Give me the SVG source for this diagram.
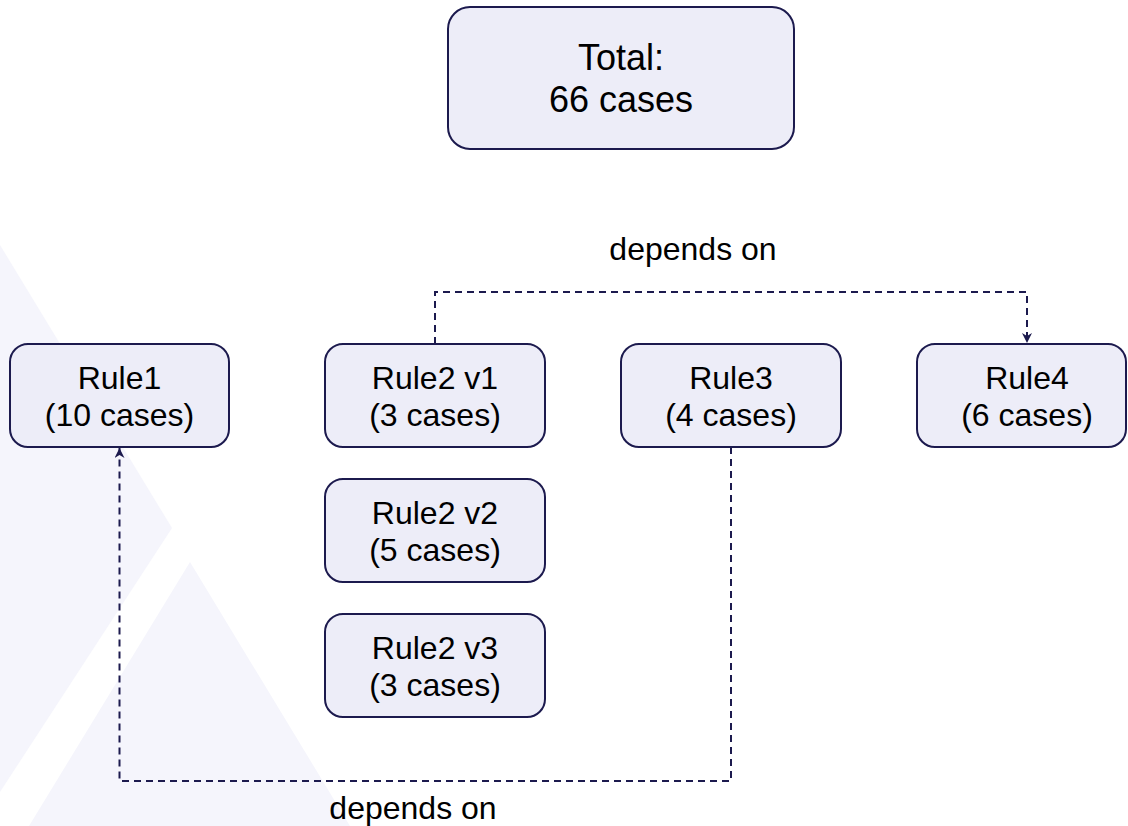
<svg xmlns="http://www.w3.org/2000/svg" width="1128" height="826" viewBox="0 0 1128 826">
  <style>
    .bg { fill: #F5F5FC; stroke: none; }
    .node rect { fill: #EDEDF8; stroke: #1C1A4E; stroke-width: 2; }
    .node text, .label { font-family: "Liberation Sans", Arial, sans-serif; fill: #000; text-anchor: middle; }
    .node text { font-size: 32px; }
    #total text { font-size: 36px; }
    .label { font-size: 32px; }
    .edge { fill: none; stroke: #1C1A4E; stroke-width: 2; stroke-dasharray: 7 5; }
  </style>
  <defs>
    <marker id="arrow" viewBox="0 0 10 10" refX="10" refY="5" markerWidth="10" markerHeight="10" markerUnits="userSpaceOnUse" orient="auto">
      <path d="M0,0 L10,5 L0,10 L3,5 z" fill="#1C1A4E"/>
    </marker>
  </defs>
  <rect width="1128" height="826" fill="#FFFFFF"/>
  <g id="background">
    <polygon class="bg" points="0,245 172,528 0,792"/>
    <polygon class="bg" points="190,562 350,826 29,826"/>
  </g>
  <g id="connectors">
    <path class="edge" d="M435,344 V292 H1027 V343" marker-end="url(#arrow)"/>
    <path class="edge" d="M731,447 V781 H119.5 V448" marker-end="url(#arrow)"/>
    <text class="label" x="693" y="260">depends on</text>
    <text class="label" x="413" y="819">depends on</text>
  </g>
  <g id="total" class="node">
    <rect x="448" y="7" width="346" height="142" rx="22"/>
    <text x="621" y="70">Total:</text>
    <text x="621" y="112">66 cases</text>
  </g>
  <g id="rule1" class="node">
    <rect x="10" y="344" width="219" height="103" rx="18"/>
    <text x="119.5" y="389">Rule1</text>
    <text x="119.5" y="426">(10 cases)</text>
  </g>
  <g id="rule2v1" class="node">
    <rect x="325" y="344" width="220" height="103" rx="18"/>
    <text x="435" y="389">Rule2 v1</text>
    <text x="435" y="426">(3 cases)</text>
  </g>
  <g id="rule3" class="node">
    <rect x="621" y="344" width="220" height="103" rx="18"/>
    <text x="731" y="389">Rule3</text>
    <text x="731" y="426">(4 cases)</text>
  </g>
  <g id="rule4" class="node">
    <rect x="917" y="344" width="209" height="103" rx="18"/>
    <text x="1027" y="389">Rule4</text>
    <text x="1027" y="426">(6 cases)</text>
  </g>
  <g id="rule2v2" class="node">
    <rect x="325" y="479" width="220" height="103" rx="18"/>
    <text x="435" y="524">Rule2 v2</text>
    <text x="435" y="561">(5 cases)</text>
  </g>
  <g id="rule2v3" class="node">
    <rect x="325" y="614" width="220" height="103" rx="18"/>
    <text x="435" y="659">Rule2 v3</text>
    <text x="435" y="696">(3 cases)</text>
  </g>
</svg>
